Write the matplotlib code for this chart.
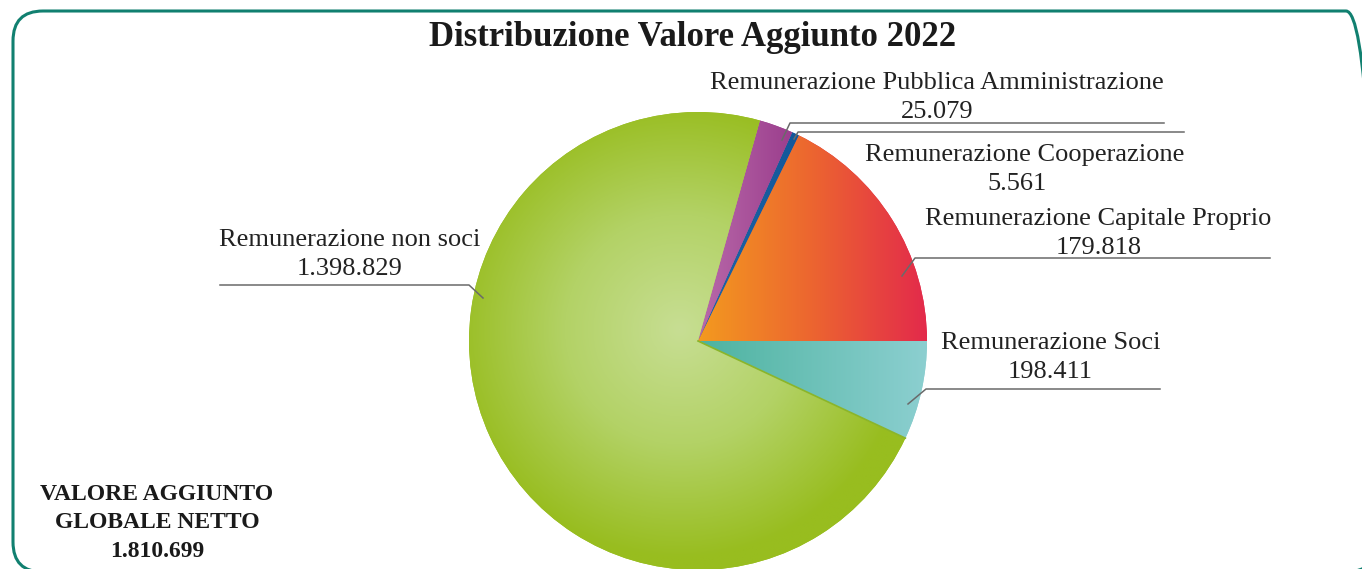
import matplotlib
matplotlib.use('Agg')
import matplotlib.pyplot as plt
import numpy as np
from matplotlib.patches import FancyBboxPatch
from matplotlib.colors import LinearSegmentedColormap

W, H = 1362, 569

title = 'Distribuzione Valore Aggiunto 2022'
labels = ['Remunerazione Capitale Proprio', 'Remunerazione Cooperazione',
          'Remunerazione Pubblica Amministrazione', 'Remunerazione non soci',
          'Remunerazione Soci']
values = ['179.818', '5.561', '25.079', '1.398.829', '198.411']
# slice sizes as they are drawn in the original (degrees)
shares = [63.9, 1.8, 8.6, 260.6, 25.1]
total_lines = ['VALORE AGGIUNTO', 'GLOBALE NETTO', '1.810.699']

# gradient fills: kind, colour stops
fills = [
    ('linear', ['#f39a1f', '#ec6530', '#e32a4b']),
    ('linear', ['#1f66a6', '#13579a']),
    ('linear', ['#b96aaa', '#9b3e8d']),
    ('radial', ['#c7de93', '#b3d266', '#98bd1f']),
    ('linear', ['#4db3a0', '#8ccfd0']),
]

# label placement in pixels from top-left: label centre x / baseline,
# value centre x, leader line points
label_pos = [(1098, 225), (1025, 161), (937, 89), (350, 246), (1051, 349)]
value_x = [1099, 1017, 937, 350, 1050]
leaders = [
    [(902, 276), (915, 258), (1270, 258)],
    [(794, 139), (798, 132), (1184, 132)],
    [(782, 140), (790, 123), (1164, 123)],
    [(483, 298), (469, 285), (220, 285)],
    [(908, 404), (926, 389), (1160, 389)],
]


def py(y):
    return H - y


fig = plt.figure(figsize=(W / 100, H / 100), dpi=100)
ax = fig.add_axes([0, 0, 1, 1])

cx, cy, r = 698, py(341), 229
wedges, _ = ax.pie(shares, startangle=0, counterclock=True, center=(cx, cy),
                   radius=r, colors=[f[1][-1] for f in fills],
                   wedgeprops=dict(linewidth=0))

for w, (kind, stops) in zip(wedges, fills):
    cmap = LinearSegmentedColormap.from_list('g', stops)
    if kind == 'radial':
        xx, yy = np.meshgrid(np.linspace(-1, 1, 400), np.linspace(-1, 1, 400))
        z = np.clip(np.hypot(xx + 0.08, yy - 0.05), 0, 1)
        ext = [cx - r, cx + r, cy - r, cy + r]
    else:
        bb = w.get_path().get_extents()
        z = np.linspace(0, 1, 256).reshape(1, -1)
        ext = [bb.x0, bb.x1, bb.y0, bb.y1]
    im = ax.imshow(z, cmap=cmap, extent=ext, origin='lower',
                   interpolation='bilinear', aspect='auto', zorder=2)
    im.set_clip_path(w)

# thin shaded edge under the soci slice
t = np.radians(-25.1)
ax.plot([cx, cx + r * np.cos(t)], [cy, cy + r * np.sin(t)],
        color='#8bb52a', lw=1.2, zorder=3)

for (tx, ty), vx, pts, lab, val in zip(label_pos, value_x, leaders, labels, values):
    ax.text(tx, py(ty), lab, ha='center', va='baseline', fontsize=19,
            family='Liberation Serif', color='#222222', zorder=5)
    ax.text(vx, py(ty + 29), val, ha='center', va='baseline', fontsize=19,
            family='Liberation Serif', color='#222222', zorder=5)
    ax.plot([p[0] for p in pts], [py(p[1]) for p in pts], color='#6a6a6a',
            lw=1.1, zorder=4)

ax.text(693, py(46), title, ha='center', va='baseline', fontsize=25,
        fontweight='bold', family='Liberation Serif', color='#1a1a1a')
for line, base in zip(total_lines, [500, 528, 557]):
    ax.text(157, py(base), line, ha='center', va='baseline', fontsize=17,
            fontweight='bold', family='Liberation Serif', color='#1a1a1a')

# rounded frame
frame = FancyBboxPatch((13, py(572)), 1376 - 13, 572 - 11,
                       boxstyle='round,pad=0,rounding_size=30',
                       fill=False, ec='#118070', lw=2.2, zorder=6)
ax.add_patch(frame)

ax.set_xlim(0, W)
ax.set_ylim(0, H)
ax.axis('off')

fig.savefig('out.png', dpi=100)
